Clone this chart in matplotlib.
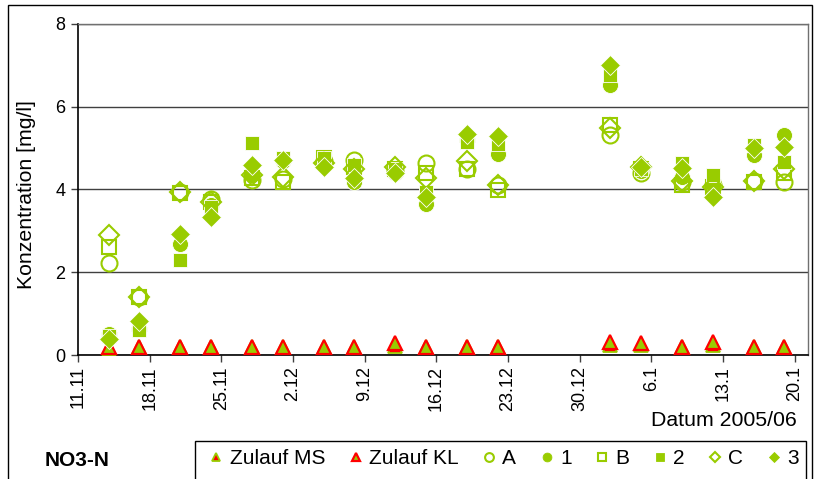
import matplotlib
matplotlib.use("Agg")
import matplotlib.pyplot as plt
from matplotlib.lines import Line2D
from matplotlib.patches import Rectangle
import datetime as dt

plt.rcParams['font.family'] = ['Liberation Sans', 'DejaVu Sans']

# ---------------- data ----------------
dates = ["14.11.2005", "17.11.2005", "21.11.2005", "24.11.2005", "28.11.2005",
         "01.12.2005", "05.12.2005", "08.12.2005", "12.12.2005", "15.12.2005",
         "19.12.2005", "22.12.2005", "02.01.2006", "05.01.2006", "09.01.2006",
         "12.01.2006", "16.01.2006", "19.01.2006"]

zulauf_ms = [0.18, 0.20, 0.20, 0.20, 0.20, 0.20, 0.20, 0.20, 0.22, 0.20,
             0.20, 0.20, 0.24, 0.24, 0.20, 0.24, 0.20, 0.20]
zulauf_kl = [0.20, 0.20, 0.20, 0.20, 0.20, 0.20, 0.20, 0.20, 0.29, 0.20,
             0.20, 0.20, 0.31, 0.29, 0.20, 0.32, 0.20, 0.20]
A  = [2.22, 1.40, 3.93, 3.77, 4.22, 4.25, 4.70, 4.71, 4.45, 4.63,
      4.50, 4.10, 5.31, 4.39, 4.18, 4.10, 4.20, 4.18]
s1 = [0.50, 0.62, 2.68, 3.62, 4.35, 4.70, 4.60, 4.18, 4.40, 3.66,
      5.20, 4.87, 6.52, 4.45, 4.30, 4.10, 4.83, 5.31]
B  = [2.62, 1.40, 3.92, 3.70, 4.27, 4.18, 4.75, 4.55, 4.50, 4.39,
      4.49, 3.98, 5.55, 4.50, 4.10, 4.05, 4.18, 4.39]
s2 = [0.45, 0.60, 2.29, 3.58, 5.12, 4.75, 4.75, 4.60, 4.50, 3.95,
      5.15, 5.10, 6.76, 4.50, 4.64, 4.35, 5.07, 4.67]
C  = [2.90, 1.40, 3.95, 3.70, 4.35, 4.30, 4.65, 4.50, 4.55, 4.27,
      4.70, 4.10, 5.48, 4.55, 4.20, 4.05, 4.20, 4.49]
s3 = [0.38, 0.83, 2.92, 3.33, 4.59, 4.71, 4.55, 4.27, 4.39, 3.81,
      5.35, 5.29, 7.00, 4.55, 4.51, 3.82, 5.00, 5.02]

tick_dates = ["11.11.2005", "18.11.2005", "25.11.2005", "02.12.2005",
              "09.12.2005", "16.12.2005", "23.12.2005", "30.12.2005",
              "06.01.2006", "13.01.2006", "20.01.2006"]
tick_labels = ["11.11", "18.11", "25.11", "2.12", "9.12", "16.12",
               "23.12", "30.12", "6.1", "13.1", "20.1"]
y_ticks = [0, 2, 4, 6, 8]

# ---------------- drawing ----------------
def to_dt(s):
    return dt.datetime.strptime(s, "%d.%m.%Y")

x = [to_dt(d) for d in dates]
xt = [to_dt(d) for d in tick_dates]

GREEN = '#99CC00'
RED = '#FF0000'

W, H = 814, 479
fig = plt.figure(figsize=(W / 100, H / 100), dpi=100)
ax = fig.add_axes([78 / W, 1 - 355 / H, 730 / W, 331 / H])

# chart border
fig.patches.append(Rectangle((8 / W, -0.1), (812 - 8) / W, 0.1 + 1 - 5 / H,
                             transform=fig.transFigure, fill=False,
                             edgecolor='black', lw=1.0))

series = [
    ("Zulauf MS", zulauf_ms, dict(marker='^', ms=9.5, mfc=RED, mec=GREEN, mew=1.3)),
    ("Zulauf KL", zulauf_kl, dict(marker='^', ms=9.5, mfc=GREEN, mec=RED, mew=1.6)),
    ("A", A, dict(marker='o', ms=11.5, mfc='none', mec=GREEN, mew=1.5)),
    ("1", s1, dict(marker='o', ms=11.5, mfc=GREEN, mec='white', mew=0.6)),
    ("B", B, dict(marker='s', ms=10.5, mfc='none', mec=GREEN, mew=1.5)),
    ("2", s2, dict(marker='s', ms=10.5, mfc=GREEN, mec='white', mew=0.6)),
    ("C", C, dict(marker='D', ms=10, mfc='none', mec=GREEN, mew=1.5)),
    ("3", s3, dict(marker='D', ms=10, mfc=GREEN, mec='white', mew=0.6)),
]

handles = []
for name, vals, kw in series:
    ax.plot(x, vals, ls='none', clip_on=False, zorder=3, **kw)
    hk = dict(kw)
    hk['ms'] = kw['ms'] * 0.55
    if kw['mfc'] != 'none' and kw['mec'] == 'white':
        hk['mec'] = GREEN
    handles.append(Line2D([], [], ls='none', **hk))

start = to_dt("11.11.2005")
ax.set_xlim(start, start + dt.timedelta(days=71.3))
ax.set_ylim(0, 8)

ax.set_xticks(xt)
ax.set_xticklabels(tick_labels, rotation=90, fontsize=13)
ax.set_yticks(y_ticks)
ax.set_yticklabels([str(v) for v in y_ticks], fontsize=13)
ax.tick_params(axis='both', direction='out', length=5, width=1, color='#404040')
ax.tick_params(axis='x', pad=3)
ax.tick_params(axis='y', pad=4)

ax.grid(axis='y', color='#404040', lw=1.0, zorder=1)
ax.set_axisbelow(True)
for side in ['left', 'bottom']:
    ax.spines[side].set_color('black')
    ax.spines[side].set_linewidth(1.2)
for side in ['top', 'right']:
    ax.spines[side].set_color('#707070')
    ax.spines[side].set_linewidth(1.0)

fig.text(27 / W, 1 - 195 / H, "Konzentration [mg/l]", rotation=90,
         ha='center', va='center', fontsize=15.3)
fig.text(797 / W, 1 - 421 / H, "Datum 2005/06", ha='right', va='center',
         fontsize=15.3)
fig.text(45 / W, 1 - 460 / H, "NO3-N", ha='left', va='center', fontsize=15,
         fontweight='bold')

# legend box
fig.patches.append(Rectangle((195 / W, -0.1), (806 - 195) / W, 0.1 + 1 - 441 / H,
                             transform=fig.transFigure, fill=False,
                             edgecolor='black', lw=1.0))
fig.legend(handles, [s[0] for s in series], ncol=8, loc='center left',
           bbox_to_anchor=(210 / W, 1 - 459 / H), frameon=False, fontsize=15,
           handlelength=0.6, handletextpad=0.35, columnspacing=1.15,
           borderpad=0, borderaxespad=0)

fig.savefig("out.png", dpi=100)
